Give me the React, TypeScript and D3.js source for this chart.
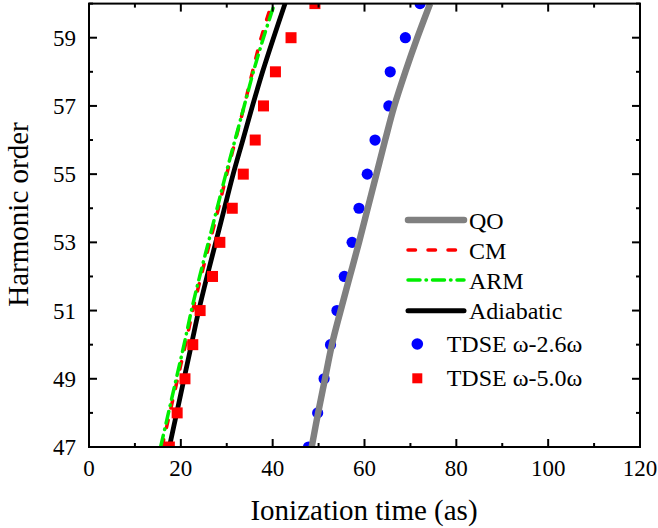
import React from "react";
import * as d3 from "d3";

const harmonics = [47, 48, 49, 50, 51, 52, 53, 54, 55, 56, 57, 58, 59, 60];
const qoTime = [48.5, 49.9, 51.4, 52.9, 54.8, 56.8, 58.8, 60.7, 62.6, 64.5, 66.5, 68.9, 71.5, 74.3];
const cmTime = [15.9, 17.6, 19.3, 21.0, 22.6, 24.4, 26.3, 28.2, 30.0, 31.9, 33.8, 35.6, 37.5, 39.8];
const armTime = [15.6, 17.3, 19.0, 20.7, 22.3, 24.1, 26.0, 27.9, 29.8, 31.8, 33.8, 35.8, 38.0, 40.4];
const adiabaticTime = [17.5, 19.1, 20.7, 22.3, 23.9, 25.7, 27.6, 29.5, 31.4, 33.5, 35.6, 37.8, 40.2, 42.7];
const tdse26Time = [47.8, 49.8, 51.2, 52.6, 54.0, 55.6, 57.3, 58.8, 60.6, 62.3, 65.3, 65.6, 68.9, 72.1];
const tdse50Time = [17.5, 19.2, 20.9, 22.6, 24.2, 26.9, 28.5, 31.2, 33.6, 36.2, 38.0, 40.6, 44.0, 49.2];

const xMajor = [0, 20, 40, 60, 80, 100, 120];
const xMinor = [10, 30, 50, 70, 90, 110];
const yMajor = [47, 49, 51, 53, 55, 57, 59];
const yMinor = [48, 50, 52, 54, 56, 58, 60];

const legendItems = [
  { label: "QO", kind: "line", color: "#808080", width: 6.5, dash: "" },
  { label: "CM", kind: "line", color: "#ff0000", width: 3.5, dash: "7.5 12.5" },
  { label: "ARM", kind: "line", color: "#00ee00", width: 3.5, dash: "12 6 0.5 6" },
  { label: "Adiabatic", kind: "line", color: "#000000", width: 5, dash: "" },
  { label: "TDSE ω-2.6ω", kind: "circle", color: "#0000ff", width: 0, dash: "" },
  { label: "TDSE ω-5.0ω", kind: "square", color: "#ff0000", width: 0, dash: "" },
];

const W = 658, H = 528;
const L = 89, R = 640, T = 3.6, B = 447;
const FONT = "Liberation Serif, Times New Roman, DejaVu Serif, serif";

export default function App() {
  const x = d3.scaleLinear().domain([0, 120]).range([L, R]);
  const y = d3.scaleLinear().domain([47, 60]).range([B, T]);
  const line = d3
    .line<[number, number]>()
    .x((d) => x(d[0]))
    .y((d) => y(d[1]))
    .curve(d3.curveCatmullRom.alpha(0.5));
  const pts = (t: number[]) => t.map((v, i) => [v, harmonics[i]] as [number, number]);

  const legendY = [220, 250, 280, 310.7, 344, 378.3];
  const ts = { fontFamily: FONT };

  return (
    <svg width={W} height={H} style={{ position: "absolute", left: 0, top: 0, background: "#fff", fontFamily: FONT }}>
      <defs>
        <clipPath id="plot">
          <rect x={L} y={T} width={R - L} height={B - T} />
        </clipPath>
      </defs>
      <g clipPath="url(#plot)">
        {tdse26Time.map((t, i) => (
          <circle key={"c" + i} cx={x(t)} cy={y(harmonics[i])} r={5.6} fill="#0000ff" />
        ))}
        <path d={line(pts(qoTime)) || ""} fill="none" stroke="#808080" strokeWidth={6.5} />
        <path d={line(pts(cmTime)) || ""} fill="none" stroke="#ff0000" strokeWidth={3.5} strokeDasharray="7.5 12.5" strokeLinecap="round" />
        <path d={line(pts(armTime)) || ""} fill="none" stroke="#00ee00" strokeWidth={3.5} strokeDasharray="12 6 0.5 6" strokeLinecap="round" />
        <path d={line(pts(adiabaticTime)) || ""} fill="none" stroke="#000000" strokeWidth={4.8} />
        {tdse50Time.map((t, i) => (
          <rect key={"s" + i} x={x(t) - 5.5} y={y(harmonics[i]) - 5.5} width={11} height={11} fill="#ff0000" />
        ))}
      </g>
      <rect x={L} y={T} width={R - L} height={B - T} fill="none" stroke="#000" strokeWidth={2} />
      {xMajor.map((v) => (
        <g key={"xm" + v}>
          <line x1={x(v)} x2={x(v)} y1={B} y2={B - 8} stroke="#000" strokeWidth={2} />
          <line x1={x(v)} x2={x(v)} y1={T} y2={T + 8} stroke="#000" strokeWidth={2} />
          <text style={ts} x={x(v)} y={476} fontSize={23} textAnchor="middle">{v}</text>
        </g>
      ))}
      {xMinor.map((v) => (
        <g key={"xn" + v}>
          <line x1={x(v)} x2={x(v)} y1={B} y2={B - 4} stroke="#000" strokeWidth={2} />
          <line x1={x(v)} x2={x(v)} y1={T} y2={T + 4} stroke="#000" strokeWidth={2} />
        </g>
      ))}
      {yMajor.map((v) => (
        <g key={"ym" + v}>
          <line x1={L} x2={L + 8} y1={y(v)} y2={y(v)} stroke="#000" strokeWidth={2} />
          <line x1={R} x2={R - 8} y1={y(v)} y2={y(v)} stroke="#000" strokeWidth={2} />
          <text style={ts} x={76} y={y(v) + 8} fontSize={23} textAnchor="end">{v}</text>
        </g>
      ))}
      {yMinor.map((v) => (
        <g key={"yn" + v}>
          <line x1={L} x2={L + 4} y1={y(v)} y2={y(v)} stroke="#000" strokeWidth={2} />
          <line x1={R} x2={R - 4} y1={y(v)} y2={y(v)} stroke="#000" strokeWidth={2} />
        </g>
      ))}
      <text style={ts} x={364} y={520} fontSize={29} textAnchor="middle">Ionization time (as)</text>
      <text style={ts} transform={`translate(28,214.5) rotate(-90)`} fontSize={29} textAnchor="middle">Harmonic order</text>
      {legendItems.map((it, i) => {
        const ly = legendY[i];
        if (it.kind === "line") {
          return (
            <g key={"l" + i}>
              <line x1={408} x2={464} y1={ly} y2={ly} stroke={it.color} strokeWidth={it.width} strokeDasharray={it.dash || undefined} strokeLinecap="round" />
              <text style={ts} x={469} y={ly + 8.5} fontSize={24}>{it.label}</text>
            </g>
          );
        }
        return (
          <g key={"l" + i}>
            {it.kind === "circle" ? (
              <circle cx={417.3} cy={ly} r={5.8} fill={it.color} />
            ) : (
              <rect x={417.3 - 5} y={ly - 5} width={10} height={10} fill={it.color} />
            )}
            <text style={ts} x={446.7} y={ly + 7.8} fontSize={24}>{it.label}</text>
          </g>
        );
      })}
    </svg>
  );
}
